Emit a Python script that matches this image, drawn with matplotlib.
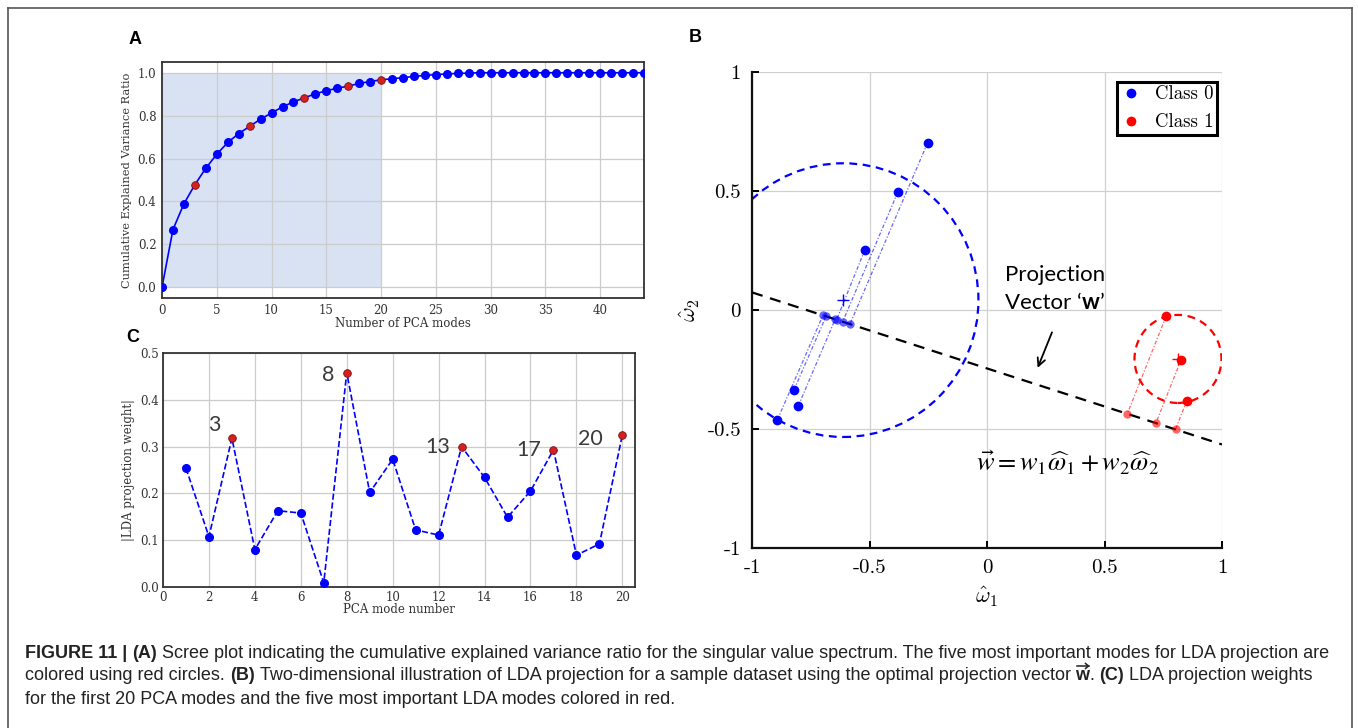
import numpy as np
import matplotlib
matplotlib.use("Agg")
import matplotlib.pyplot as plt
import matplotlib.transforms as mtransforms
from matplotlib.lines import Line2D
from matplotlib.patches import Circle

# ---------------- data ----------------
# (A) cumulative explained variance ratio of the PCA modes
pca_modes = np.arange(0, 45)
cum_var_ratio = [0.0, 0.269, 0.389, 0.478, 0.555, 0.620, 0.675, 0.716, 0.750, 0.784,
                 0.8125, 0.841, 0.864, 0.883, 0.902, 0.916, 0.928, 0.9375, 0.950, 0.959,
                 0.967, 0.972, 0.977, 0.983, 0.9875, 0.991, 0.994, 0.997, 0.998] + [1.0] * 16
retained_modes = 20

# (C) absolute LDA projection weight of the first 20 PCA modes
lda_modes = np.arange(1, 21)
lda_weights = [0.254, 0.1075, 0.318, 0.080, 0.163, 0.158, 0.009, 0.458, 0.202, 0.273,
               0.122, 0.111, 0.300, 0.234, 0.149, 0.205, 0.293, 0.068, 0.092, 0.325]
important_modes = [3, 8, 13, 17, 20]

# (B) two-class sample data and its projection onto w
class0_x = [-0.253, -0.380, -0.520, -0.821, -0.803, -0.892]
class0_y = [0.702, 0.494, 0.252, -0.335, -0.403, -0.461]
class0_proj_x = [-0.583, -0.614, -0.640, -0.685, -0.646, -0.697]
class0_proj_y = [-0.059, -0.049, -0.041, -0.027, -0.039, -0.020]
class0_radius = 0.575

class1_x = [0.762, 0.826, 0.850]
class1_y = [-0.027, -0.209, -0.381]
class1_proj_x = [0.597, 0.719, 0.803]
class1_proj_y = [-0.436, -0.475, -0.500]
class1_radius = 0.185

w_line_x = [-1.0, 1.0]
w_line_y = [0.074, -0.565]

B_ticks = [-1, -0.5, 0, 0.5, 1]
B_ticklabels = ["-1", "-0.5", "0", "0.5", "1"]

# ---------------- figure ----------------
W, H = 1358, 728
fig = plt.figure(figsize=(W / 100, H / 100), dpi=100)
fig.patch.set_facecolor("white")
ident = mtransforms.IdentityTransform()


def px_axes(l, t, r, b):
    return fig.add_axes([l / W, 1 - b / H, (r - l) / W, (b - t) / H])


BLUE = "#0000ff"
SERIF = "DejaVu Serif"

# outer frame
for xs, ys in [([8, 8], [8, H + 2]), ([8, 1352], [8, 8]), ([1352, 1352], [8, H + 2])]:
    fig.add_artist(Line2D(xs, [H - y for y in ys], transform=ident, color="#555555", lw=1.2))

# ---------------- panel A ----------------
axA = px_axes(162, 62, 644, 298)
axA.fill_between([0, retained_modes], 0, 1.0, color="#d9e2f2", lw=0, zorder=0)
axA.plot(pca_modes, cum_var_ratio, "-", color=BLUE, lw=1.2, zorder=2)
mask = np.array([m not in important_modes for m in pca_modes])
axA.plot(pca_modes[mask], np.array(cum_var_ratio)[mask], "o", color=BLUE, ms=5.5, zorder=3)
imp = np.array(important_modes)
axA.plot(imp, np.array(cum_var_ratio)[imp], "o", color="#d42020", mec="#7a1010",
         mew=0.6, ms=5.5, zorder=4)
axA.set_xlim(0, 44)
axA.set_ylim(-0.05, 1.05)
axA.set_xticks(np.arange(0, 41, 5))
axA.set_yticks(np.arange(0, 1.01, 0.2))
axA.set_yticklabels([f"{v:.1f}" for v in np.arange(0, 1.01, 0.2)])
axA.grid(True, color="#cccccc", lw=0.9)
axA.set_axisbelow(True)
axA.tick_params(length=0, labelsize=8.5, pad=4, colors="#333333")
for lab in axA.get_xticklabels() + axA.get_yticklabels():
    lab.set_fontfamily(SERIF)
axA.set_xlabel("Number of PCA modes", fontfamily=SERIF, fontsize=8.5, labelpad=0, color="#333333")
axA.set_ylabel("Cumulative Explained Variance Ratio", fontfamily=SERIF, fontsize=8.2,
               labelpad=4, color="#333333")
for s in axA.spines.values():
    s.set_color("#333333")
    s.set_linewidth(1.3)

# ---------------- panel C ----------------
axC = px_axes(163, 353, 635, 587)
axC.plot(lda_modes, lda_weights, "--", color=BLUE, lw=1.2, zorder=2)
wts = np.array(lda_weights)
cmask = np.array([m not in important_modes for m in lda_modes])
axC.plot(lda_modes[cmask], wts[cmask], "o", color=BLUE, ms=5.5, zorder=3)
axC.plot(imp, wts[imp - 1], "o", color="#d42020", mec="#7a1010", mew=0.6, ms=5.5, zorder=4)
label_offsets = {3: (-18, 13), 8: (-19, -2), 13: (-11, 0), 17: (-12, 0), 20: (-20, -4)}
for m in important_modes:
    axC.annotate(str(m), (m, wts[m - 1]), xytext=label_offsets[m], textcoords="offset pixels",
                 ha="right" if m > 9 else "center", va="center", fontsize=15.5,
                 fontfamily="Lato", color="#3a3a3a")
axC.set_xlim(0, 20.55)
axC.set_ylim(0, 0.5)
axC.set_xticks(np.arange(0, 21, 2))
axC.set_yticks(np.arange(0, 0.51, 0.1))
axC.set_yticklabels([f"{v:.1f}" for v in np.arange(0, 0.51, 0.1)])
axC.grid(True, color="#cccccc", lw=0.9)
axC.set_axisbelow(True)
axC.tick_params(length=0, labelsize=8.5, pad=3, colors="#333333")
for lab in axC.get_xticklabels() + axC.get_yticklabels():
    lab.set_fontfamily(SERIF)
axC.set_xlabel("PCA mode number", fontfamily=SERIF, fontsize=8.5, labelpad=-1, color="#333333")
axC.set_ylabel("|LDA projection weight|", fontfamily=SERIF, fontsize=8.5, labelpad=4,
               color="#333333")
for s in axC.spines.values():
    s.set_color("#333333")
    s.set_linewidth(1.3)

# ---------------- panel B ----------------
axB = px_axes(752, 72, 1222, 548)
axB.set_xlim(-1, 1)
axB.set_ylim(-1, 1)
axB.grid(True, color="#d0d0d0", lw=0.9)
axB.set_axisbelow(True)
for side in ("top", "right"):
    axB.spines[side].set_visible(False)
for side in ("left", "bottom"):
    axB.spines[side].set_linewidth(1.6)
    axB.spines[side].set_color("#111111")
axB.tick_params(direction="in", length=5, width=1.4, pad=8, labelsize=15)
axB.set_xticks(B_ticks)
axB.set_yticks(B_ticks)
axB.set_xticklabels(B_ticklabels, fontfamily="cmr10")
axB.set_yticklabels(B_ticklabels, fontfamily="cmr10")
axB.set_xlabel(r"$\hat{\omega}_1$", fontsize=16, math_fontfamily="cm", labelpad=6)
axB.set_ylabel(r"$\hat{\omega}_2$", fontsize=16, math_fontfamily="cm", labelpad=4)

# projection direction
axB.plot(w_line_x, w_line_y, "--", color="black", lw=1.6, dashes=(5, 3.5), zorder=3)

# class scatter, spread circles and projections
for xs, ys, pxs, pys, rad, col in [
        (class0_x, class0_y, class0_proj_x, class0_proj_y, class0_radius, BLUE),
        (class1_x, class1_y, class1_proj_x, class1_proj_y, class1_radius, "#ff0000")]:
    cx, cy = np.mean(xs), np.mean(ys)
    axB.add_patch(Circle((cx, cy), rad, fill=False, ec=col, lw=1.6, ls=(0, (3.5, 2.5)), zorder=2))
    for x, y, px, py in zip(xs, ys, pxs, pys):
        axB.plot([x, px], [y, py], color=col, lw=0.9, alpha=0.6, ls=(0, (3, 1.5, 1, 1.5)), zorder=2)
    axB.plot(pxs, pys, "o", color=col, alpha=0.6, ms=6, mew=0, zorder=4)
    axB.plot(xs, ys, "o", color=col, ms=7, mew=0, zorder=5)
    axB.plot([cx], [cy], "+", color=col, ms=9, mew=1.0, zorder=5)

axB.annotate("", xy=(0.211, -0.254), xytext=(0.281, -0.083),
             arrowprops=dict(arrowstyle="->", color="black", lw=1.3, mutation_scale=14))

B_FONT = dict(fontsize=16, fontfamily="Lato", va="center", ha="left")
axB.text(0.077, 0.145, "Projection", **B_FONT)
tv = axB.text(0.077, 0.03, "Vector \u2018", **B_FONT)
fig.canvas.draw()
rend = fig.canvas.get_renderer()
bb = tv.get_window_extent(rend)
ymid = (bb.y0 + bb.y1) / 2
tw = fig.text(bb.x1, ymid, "w", transform=ident, fontweight="bold", **B_FONT)
bbw = tw.get_window_extent(rend)
fig.text(bbw.x1, ymid, "\u2019", transform=ident, **B_FONT)

axB.text(-0.045, -0.645, r"$\vec{w} = w_1\widehat{\omega}_1 + w_2\widehat{\omega}_2$",
         fontsize=19, math_fontfamily="stix", va="center", ha="left")

handles = [Line2D([], [], ls="none", marker="o", color=BLUE, ms=7, mew=0),
           Line2D([], [], ls="none", marker="o", color="#ff0000", ms=7, mew=0)]
leg = axB.legend(handles, ["Class 0", "Class 1"], loc="upper right",
                 bbox_to_anchor=(0.99, 0.98), fancybox=False, framealpha=1,
                 edgecolor="black", handlelength=1.0, handletextpad=0.8, borderpad=0.2,
                 labelspacing=0.55, borderaxespad=0.0, prop={"family": "cmr10", "size": 13.5})
leg.get_frame().set_linewidth(2.2)

# panel letters
for letter, (x, y) in {"A": (135, 40), "B": (695, 38), "C": (133, 338)}.items():
    fig.text(x, H - y, letter, transform=ident, fontsize=13,
             fontweight="bold", fontfamily="Liberation Sans", ha="center", va="center")

# ---------------- caption ----------------
CAP_FONT = "Liberation Sans"
CAP_SIZE = 13
CAP_COLOR = "#222222"


def text_width(s, bold=False):
    t = fig.text(0, 0, s, transform=ident, fontsize=CAP_SIZE, fontfamily=CAP_FONT,
                 fontweight="bold" if bold else "normal")
    w = t.get_window_extent(rend).width
    t.remove()
    return w


space_w = text_width("x x") - text_width("xx")

caption_lines = [
    [("FIGURE 11 |", True, True), ("(A)", True, True),
     ("Scree plot indicating the cumulative explained variance ratio for the singular value "
      "spectrum. The five most important modes for LDA projection are", False, False)],
    [("colored using red circles.", False, True), ("(B)", True, True),
     ("Two-dimensional illustration of LDA projection for a sample dataset using the optimal "
      "projection vector", False, True), ("w", "vec", False), (".", False, True),
     ("(C)", True, True), ("LDA projection weights", False, False)],
    [("for the first 20 PCA modes and the five most important LDA modes colored in red.",
      False, False)],
]
line_y = [653, 676, 699]
for runs, yy in zip(caption_lines, line_y):
    x = 25
    for s, bold, sp in runs:
        is_vec = bold == "vec"
        t = fig.text(x, H - yy, s, transform=ident, fontsize=CAP_SIZE, fontfamily=CAP_FONT,
                     fontweight="bold" if bold else "normal", color=CAP_COLOR, va="center",
                     ha="left")
        w = t.get_window_extent(rend).width
        if is_vec:
            # small arrow accent above the vector symbol
            fig.add_artist(Line2D([x + 1, x + w - 1], [H - yy + 10, H - yy + 10],
                                  transform=ident, color=CAP_COLOR, lw=1.1))
            fig.add_artist(Line2D([x + w - 4, x + w - 1, x + w - 4],
                                  [H - yy + 12.5, H - yy + 10, H - yy + 7.5],
                                  transform=ident, color=CAP_COLOR, lw=1.1))
        x += w + (space_w if sp else 0)

fig.savefig("out.png", dpi=100)
